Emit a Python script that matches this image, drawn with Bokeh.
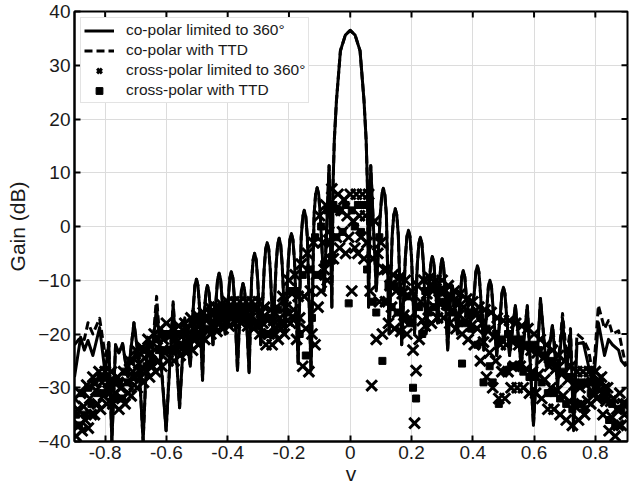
import math
from bokeh.plotting import figure
from bokeh.models import FixedTicker, Legend, LegendItem, Range1d, ColumnDataSource
from bokeh.embed import file_html
from bokeh.resources import INLINE

# ---------------- data ----------------
X_TICKS = [-0.8, -0.6, -0.4, -0.2, 0, 0.2, 0.4, 0.6, 0.8]
X_LABELS = ["-0.8", "-0.6", "-0.4", "-0.2", "0", "0.2", "0.4", "0.6", "0.8"]
Y_TICKS = [-40, -30, -20, -10, 0, 10, 20, 30, 40]
X_LIMITS = [-0.9, 0.905]
Y_LIMITS = [-40, 40]
X_TITLE = "v"
Y_TITLE = "Gain (dB)"

SERIES_NAMES = ["co-polar limited to 360°", "co-polar with TTD",
                "cross-polar limited to 360°", "cross-polar with TTD"]

# co-polar patterns, outer left part (the two curves differ here)
V_CO_LEFT = [
    -0.900, -0.880, -0.868, -0.856, -0.840, -0.818, -0.800, -0.788, -0.778, -0.766,
    -0.755, -0.743, -0.726, -0.706, -0.690, -0.676, -0.662, -0.650, -0.632, -0.601,
    -0.578, -0.557, -0.540, -0.522]
G_CO_LEFT_360 = [
    -28, -20.6, -23, -21.2, -24, -18.8, -27.3, -21.6, -40, -22,
    -23.5, -21.8, -28, -17.9, -25, -40, -20.6, -26, -14.7, -38,
    -14.5, -33.7, -17, -26]
G_CO_LEFT_TTD = [
    -22, -20.6, -21, -17.9, -20, -17.1, -24, -21.6, -40, -22,
    -23.5, -21.8, -28, -17.9, -25, -40, -20.6, -26, -13.0, -38,
    -14.0, -33.7, -17, -26]

# co-polar patterns, central part (both curves coincide here)
V_CO_MID = [
    -0.512, -0.507, -0.502, -0.497, -0.492, -0.482,
    -0.476, -0.471, -0.466, -0.461, -0.456, -0.448,
    -0.438, -0.433, -0.428, -0.423, -0.418, -0.408,
    -0.398, -0.393, -0.388, -0.383, -0.378, -0.368,
    -0.360, -0.355, -0.350, -0.345, -0.340, -0.330,
    -0.322, -0.317, -0.312, -0.307, -0.302, -0.292,
    -0.281, -0.276, -0.271, -0.266, -0.261, -0.252,
    -0.242, -0.237, -0.232, -0.227, -0.222, -0.212,
    -0.202, -0.197, -0.192, -0.187, -0.182, -0.170,
    -0.160, -0.155, -0.150, -0.145, -0.140, -0.128,
    -0.118, -0.113, -0.108, -0.103, -0.098, -0.085,
    -0.069, -0.060,
    -0.056, -0.052, -0.045, -0.032, -0.016, 0.000, 0.016, 0.032, 0.045, 0.052, 0.056,
    0.060, 0.067, 0.085,
    0.098, 0.103, 0.108, 0.113, 0.118, 0.127,
    0.137, 0.142, 0.147, 0.152, 0.157, 0.168,
    0.180, 0.185, 0.190, 0.195, 0.200, 0.210,
    0.219, 0.224, 0.229, 0.234, 0.239, 0.248,
    0.258, 0.263, 0.268, 0.273, 0.278, 0.285,
    0.292, 0.296, 0.300, 0.304, 0.308, 0.318,
    0.326, 0.329, 0.333, 0.337, 0.341, 0.350,
    0.359, 0.364, 0.369, 0.374, 0.379, 0.392,
    0.405, 0.410, 0.415, 0.420, 0.425, 0.436,
    0.446, 0.451, 0.456, 0.461, 0.466, 0.478,
    0.490, 0.495, 0.500, 0.505, 0.510, 0.520]
G_CO_MID = [
    -14.8, -11.0, -9.8, -11.0, -14.8, -28.6,
    -16.0, -12.2, -11.0, -12.2, -16.0, -22,
    -13.7, -9.9, -8.7, -9.9, -13.7, -20,
    -13.4, -9.6, -8.4, -9.6, -13.4, -26.8,
    -15.6, -11.8, -10.6, -11.8, -15.6, -27.2,
    -10.0, -6.2, -5.0, -6.2, -10.0, -22,
    -8.0, -4.2, -3.0, -4.2, -8.0, -20,
    -7.2, -3.4, -2.2, -3.4, -7.2, -20,
    -6.3, -2.5, -1.3, -2.5, -6.3, -25.5,
    -2.0, 1.8, 3.0, 1.8, -2.0, -26.8,
    2.2, 6.0, 7.2, 6.0, 2.2, -12,
    11.3, -15,
    8, 16, 23.4, 32.7, 35.6, 36.5, 35.6, 32.7, 23.4, 16, 8,
    -15, 11.3, -12,
    2.1, 5.9, 7.1, 5.9, 2.1, -20,
    -1.7, 2.1, 3.3, 2.1, -1.7, -22,
    -5.7, -1.9, -0.7, -1.9, -5.7, -20,
    -7.0, -3.2, -2.0, -3.2, -7.0, -20,
    -10.6, -6.8, -5.6, -6.8, -10.6, -18,
    -10.0, -7.0, -6.0, -7.0, -10.0, -23,
    -15.0, -12.2, -11.0, -12.2, -15.0, -20,
    -13.2, -9.4, -8.2, -9.4, -13.2, -18,
    -12.3, -8.5, -7.3, -8.5, -12.3, -23,
    -15.0, -11.2, -10.0, -11.2, -15.0, -24,
    -16.3, -12.5, -11.3, -12.5, -16.3, -24]

# co-polar patterns, outer right part (the two curves differ here)
V_CO_RIGHT = [
    0.539, 0.558, 0.578, 0.598, 0.621, 0.640, 0.660, 0.677, 0.693, 0.706,
    0.719, 0.729, 0.740, 0.761, 0.778, 0.793, 0.810, 0.830, 0.843, 0.856,
    0.876, 0.885, 0.900]
G_CO_RIGHT_360 = [
    -14.7, -26, -14.7, -37, -13.4, -26, -18.4, -30, -17.1, -27,
    -20, -38, -21.8, -21.6, -26, -30, -17.9, -24, -21, -22,
    -23, -25, -26]
G_CO_RIGHT_TTD = [
    -14.7, -26, -14.7, -37, -13.4, -26, -18.4, -27, -16.2, -24,
    -19, -36, -20, -21, -23, -28, -14.7, -19, -17.5, -20,
    -19.4, -22, -26]

# cross-polar, limited to 360 deg (x markers)
V_XP_360 = [
    -0.900, -0.895, -0.890, -0.885, -0.880, -0.875, -0.870, -0.865,
    -0.860, -0.855, -0.850, -0.845, -0.840, -0.835, -0.830, -0.825,
    -0.820, -0.815, -0.810, -0.805, -0.800, -0.795, -0.790, -0.785,
    -0.780, -0.775, -0.770, -0.765, -0.760, -0.755, -0.750, -0.745,
    -0.740, -0.735, -0.730, -0.725, -0.720, -0.715, -0.710, -0.705,
    -0.700, -0.695, -0.690, -0.685, -0.680, -0.675, -0.670, -0.665,
    -0.660, -0.655, -0.650, -0.645, -0.640, -0.635, -0.630, -0.625,
    -0.620, -0.615, -0.610, -0.605, -0.600, -0.595, -0.590, -0.585,
    -0.580, -0.575, -0.570, -0.565, -0.560, -0.555, -0.550, -0.545,
    -0.540, -0.535, -0.530, -0.525, -0.520, -0.515, -0.510, -0.505,
    -0.500, -0.495, -0.490, -0.485, -0.480, -0.475, -0.470, -0.465,
    -0.460, -0.455, -0.450, -0.445, -0.440, -0.435, -0.430, -0.425,
    -0.420, -0.415, -0.410, -0.405, -0.400, -0.395, -0.390, -0.385,
    -0.380, -0.375, -0.370, -0.365, -0.360, -0.355, -0.350, -0.345,
    -0.340, -0.335, -0.330, -0.325, -0.320, -0.315, -0.310, -0.305,
    -0.300, -0.295, -0.290, -0.285, -0.280, -0.275, -0.270, -0.265,
    -0.260, -0.255, -0.250, -0.245, -0.240, -0.235, -0.230, -0.225,
    -0.220, -0.215, -0.210, -0.205, -0.200, -0.195, -0.190, -0.185,
    -0.180, -0.175, -0.170, -0.165, -0.160, -0.155, -0.150, -0.145,
    -0.140, -0.135, -0.130, -0.125, -0.120, -0.115, -0.110, -0.105,
    -0.100, -0.095, -0.090, -0.085, -0.080, -0.075, -0.070, -0.065,
    -0.060, -0.055, -0.050, -0.045, -0.040, -0.035, -0.030, -0.025,
    -0.020, -0.015, -0.010, -0.005, 0.000, 0.005, 0.010, 0.015,
    0.020, 0.025, 0.030, 0.035, 0.040, 0.045, 0.050, 0.055,
    0.060, 0.065, 0.070, 0.075, 0.080, 0.085, 0.090, 0.095,
    0.100, 0.105, 0.110, 0.115, 0.120, 0.125, 0.130, 0.135,
    0.140, 0.145, 0.150, 0.155, 0.160, 0.165, 0.170, 0.175,
    0.180, 0.185, 0.190, 0.195, 0.200, 0.205, 0.210, 0.215,
    0.220, 0.225, 0.230, 0.235, 0.240, 0.245, 0.250, 0.255,
    0.260, 0.265, 0.270, 0.275, 0.280, 0.285, 0.290, 0.295,
    0.300, 0.305, 0.310, 0.315, 0.320, 0.325, 0.330, 0.335,
    0.340, 0.345, 0.350, 0.355, 0.360, 0.365, 0.370, 0.375,
    0.380, 0.385, 0.390, 0.395, 0.400, 0.405, 0.410, 0.415,
    0.420, 0.425, 0.430, 0.435, 0.440, 0.445, 0.450, 0.455,
    0.460, 0.465, 0.470, 0.475, 0.480, 0.485, 0.490, 0.495,
    0.500, 0.505, 0.510, 0.515, 0.520, 0.525, 0.530, 0.535,
    0.540, 0.545, 0.550, 0.555, 0.560, 0.565, 0.570, 0.575,
    0.580, 0.585, 0.590, 0.595, 0.600, 0.605, 0.610, 0.615,
    0.620, 0.625, 0.630, 0.635, 0.640, 0.645, 0.650, 0.655,
    0.660, 0.665, 0.670, 0.675, 0.680, 0.685, 0.690, 0.695,
    0.700, 0.705, 0.710, 0.715, 0.720, 0.725, 0.730, 0.735,
    0.740, 0.745, 0.750, 0.755, 0.760, 0.765, 0.770, 0.775,
    0.780, 0.785, 0.790, 0.795, 0.800, 0.805, 0.810, 0.815,
    0.820, 0.825, 0.830, 0.835, 0.840, 0.845, 0.850, 0.855,
    0.860, 0.865, 0.870, 0.875, 0.880, 0.885, 0.890, 0.895,
    0.900]

G_XP_360 = [
    -32, -39, -34, -37, -31, -38, -33.5, -36,
    -29.5, -37.5, -32, -35, -28, -35, -30.5, -33,
    -27, -34, -29, -31.5, -27, -33, -29, -31,
    -27, -33, -29, -31, -28, -34, -30, -32,
    -27, -33, -29, -31, -25, -31.5, -27, -29.5,
    -23, -30, -25.5, -28, -22.5, -29, -24.5, -27,
    -21, -28, -23.5, -26, -20, -27, -22.5, -25,
    -19, -26, -21, -23.5, -18, -25, -20.5, -23,
    -19, -25, -21, -23, -18.5, -24, -20.5, -22.5,
    -18, -23.5, -20, -22, -17, -23, -19, -21,
    -16.5, -22, -18.5, -20.5, -16, -21, -17.5, -19.5,
    -15, -20, -16.5, -18.5, -15, -19.5, -16.5, -18,
    -14.5, -19, -16, -17.5, -14, -18.5, -15.5, -17,
    -14, -18, -15.5, -17, -14, -18, -15.5, -17,
    -14, -18.5, -15.5, -17, -14, -19, -15.5, -17.5,
    -14, -20, -16, -18, -15, -22, -17.5, -20,
    -15.5, -22, -17.5, -20, -15, -21, -17, -19,
    -13, -20, -15, -17.5, -10, -18, -12.5, -15.5,
    -9, -21, -13, -17, -7, -26, -13, -19,
    -5, -27, -12, -20, -3, -22, -9, -15,
    2, -12, -3, -8, 4, -10, -1, -6,
    7, -6, 3, -2, 6, -4, 3, -1,
    5, -5, 2, -2, 6, -12, 1, -4,
    6, -5, 2, -2, 6, -6, 2, -3,
    6, -12, -29.6, -6, 1, -21, -5, -14,
    -3, -20, -8, -14, -8, -18, -11, -15,
    -9, -19, -12, -16, -9.5, -19.5, -12.5, -16.5,
    -10, -20, -13, -17, -12, -23, -36.6, -26.8,
    -11, -21, -14, -17.5, -10, -18.5, -12.5, -15.5,
    -9.5, -18, -12, -15, -10, -17, -12, -14.5,
    -10, -17, -12, -14.5, -11, -18, -13, -15.5,
    -12, -19, -14, -16.5, -12.5, -20, -15, -17.5,
    -13.5, -21, -16, -18.5, -14, -22, -16.5, -19,
    -15, -25, -18, -21.5, -15.5, -28, -19.5, -23.5,
    -16, -30, -20.5, -25, -17, -32, -22, -27,
    -17.5, -32, -22, -27, -17.5, -30, -21.5, -26,
    -18, -30, -22, -26, -18.5, -30, -22.5, -26.5,
    -19, -31, -23, -27, -20, -31, -23.5, -27.5,
    -21, -32, -24.5, -28.5, -22, -34, -26, -30,
    -23, -34, -26.5, -30.5, -24, -35, -27.5, -31.5,
    -25, -36, -28.5, -32.5, -26, -37, -29.5, -33.5,
    -27, -36, -30, -33, -27, -35, -29.5, -32.5,
    -27, -33, -29, -31, -27, -32, -28.5, -30.5,
    -28, -35, -30, -32.5, -30, -38, -32.5, -35.5,
    -32, -39, -34, -37, -31, -37, -33, -35,
    -33]

# cross-polar with TTD (square markers)
V_XP_TTD = [
    -0.895, -0.885, -0.875, -0.865, -0.855, -0.845, -0.835, -0.825, -0.815, -0.805,
    -0.795, -0.785, -0.775, -0.765, -0.755, -0.745, -0.735, -0.725, -0.715, -0.705,
    -0.695, -0.685, -0.675, -0.665, -0.655, -0.645, -0.635, -0.625, -0.615, -0.605,
    -0.595, -0.585, -0.575, -0.565, -0.555, -0.545, -0.535, -0.525, -0.515, -0.505,
    -0.495, -0.485, -0.475, -0.465, -0.455, -0.445, -0.435, -0.425, -0.415, -0.405,
    -0.395, -0.385, -0.375, -0.365, -0.355, -0.345, -0.335, -0.325, -0.315, -0.305,
    -0.295, -0.285, -0.275, -0.265, -0.255, -0.245, -0.235, -0.225, -0.215, -0.205,
    -0.195, -0.185, -0.175, -0.165, -0.155, -0.145, -0.135, -0.125, -0.115, -0.105,
    -0.095, -0.085, -0.075, -0.065, -0.055, -0.045, -0.035, -0.025, -0.015, -0.005,
    0.005, 0.015, 0.025, 0.035, 0.045, 0.055, 0.065, 0.075, 0.085, 0.095,
    0.105, 0.115, 0.125, 0.135, 0.145, 0.155, 0.165, 0.175, 0.185, 0.195,
    0.205, 0.215, 0.225, 0.235, 0.245, 0.255, 0.265, 0.275, 0.285, 0.295,
    0.305, 0.315, 0.325, 0.335, 0.345, 0.355, 0.365, 0.375, 0.385, 0.395,
    0.405, 0.415, 0.425, 0.435, 0.445, 0.455, 0.465, 0.475, 0.485, 0.495,
    0.505, 0.515, 0.525, 0.535, 0.545, 0.555, 0.565, 0.575, 0.585, 0.595,
    0.605, 0.615, 0.625, 0.635, 0.645, 0.655, 0.665, 0.675, 0.685, 0.695,
    0.705, 0.715, 0.725, 0.735, 0.745, 0.755, 0.765, 0.775, 0.785, 0.795,
    0.805, 0.815, 0.825, 0.835, 0.845, 0.855, 0.865, 0.875, 0.885, 0.895]

G_XP_TTD = [
    -35, -37, -31, -35, -30, -33, -29, -31, -28, -31,
    -28, -30, -29, -32, -29, -32, -27, -29, -25, -28,
    -24, -27, -23, -26, -22, -25, -21, -23, -20, -23,
    -20, -23, -20, -22, -20, -22, -19, -21, -18, -20,
    -17.5, -20, -17, -19, -16, -18, -15.5, -17, -15, -17,
    -15, -16.5, -15, -16.5, -15, -16.5, -15, -17.5, -15, -18.5,
    -16, -20, -17, -20, -17, -19, -15.5, -18, -14, -16,
    -12, -17, -12, -20, -9, -24, -8, -17, -2, -9,
    0, -7, 3, -3, 4, -2, 3, -1, 4, -14.3,
    3, 0, 4, -1, 4, -8, 1, -14, -16, -2,
    -25, -14, -11, -15, -11, -16, -12, -17, -13, -18,
    -30, -32, -15, -20, -12, -16, -11, -15, -12, -14,
    -12, -15, -13, -16, -14, -18, -25.5, -18, -16, -19,
    -16, -22, -17, -29, -19, -26, -29, -20, -33, -21,
    -27, -20, -26, -21, -26, -21, -27, -22, -28, -22,
    -28, -23, -29, -24, -31, -25, -31, -26, -32, -27,
    -33, -28, -34, -29, -33, -29, -34, -29, -31, -29,
    -30, -29, -32, -31, -36, -33, -37, -34, -34, -33]

# full co-polar series (the central part is shared by both curves)
V_CO = V_CO_LEFT + V_CO_MID + V_CO_RIGHT
G_CO_360 = G_CO_LEFT_360 + G_CO_MID + G_CO_RIGHT_360
G_CO_TTD = G_CO_LEFT_TTD + G_CO_MID + G_CO_RIGHT_TTD

# ---------------- figure ----------------
FONT = "Liberation Sans"
TXT = "#1a1a1a"

p = figure(width=636, height=489, output_backend="svg", toolbar_location=None,
           x_range=Range1d(*X_LIMITS), y_range=Range1d(*Y_LIMITS),
           min_border_left=74, min_border_right=9, min_border_top=11,
           min_border_bottom=48, background_fill_color="white",
           border_fill_color="white")

p.outline_line_color = "black"
p.outline_line_width = 2

# grid
for g in (p.xgrid, p.ygrid):
    g.grid_line_color = "#dcdcdc"
    g.grid_line_width = 1
p.xgrid.ticker = FixedTicker(ticks=X_TICKS)
p.ygrid.ticker = FixedTicker(ticks=Y_TICKS)

# axes
p.xaxis.ticker = FixedTicker(ticks=X_TICKS)
p.xaxis.major_label_overrides = dict(zip(X_TICKS, X_LABELS))
p.yaxis.ticker = FixedTicker(ticks=Y_TICKS)
p.xaxis.axis_label = X_TITLE
p.yaxis.axis_label = Y_TITLE
for ax in (p.xaxis[0], p.yaxis[0]):
    ax.major_tick_in = 6
    ax.major_tick_out = 0
    ax.minor_tick_line_color = None
    ax.major_tick_line_color = "black"
    ax.major_tick_line_width = 2
    ax.axis_line_color = "black"
    ax.axis_line_width = 2
    ax.major_label_text_font = FONT
    ax.major_label_text_font_size = "19px"
    ax.major_label_text_color = TXT
    ax.axis_label_text_font = FONT
    ax.axis_label_text_font_size = "21px"
    ax.axis_label_text_font_style = "normal"
    ax.axis_label_text_color = TXT
p.xaxis.major_label_standoff = 4
p.xaxis.axis_label_standoff = 0
p.yaxis.major_label_standoff = 4
p.yaxis.axis_label_standoff = 6

# mirrored inward ticks on top and right frame edges (clipped to the frame)
p.scatter(X_TICKS, [Y_LIMITS[1]] * len(X_TICKS), marker="dash", size=12,
          angle=math.pi / 2, line_color="black", line_width=2)
p.scatter([X_LIMITS[1]] * len(Y_TICKS), Y_TICKS, marker="dash", size=12,
          line_color="black", line_width=2)

# ---------------- data renderers ----------------
src_co = ColumnDataSource(dict(v=V_CO, g360=G_CO_360, gttd=G_CO_TTD))
src_x = ColumnDataSource(dict(v=V_XP_360, g=G_XP_360))
src_s = ColumnDataSource(dict(v=V_XP_TTD, g=G_XP_TTD))

r_ttd = p.line("v", "gttd", source=src_co, line_color="black", line_width=3,
               line_dash="8 4", line_join="round")
r_360 = p.line("v", "g360", source=src_co, line_color="black", line_width=3,
               line_join="round")
r_sq = p.scatter("v", "g", source=src_s, marker="square", size=7,
                 fill_color="black", line_color="black")
r_x = p.scatter("v", "g", source=src_x, marker="x", size=15,
                line_color="black", line_width=3)

legend = Legend(items=[
    LegendItem(label=SERIES_NAMES[0], renderers=[r_360]),
    LegendItem(label=SERIES_NAMES[1], renderers=[r_ttd]),
    LegendItem(label=SERIES_NAMES[2], renderers=[r_x]),
    LegendItem(label=SERIES_NAMES[3], renderers=[r_sq]),
], location="top_left")
legend.margin = 6
legend.padding = 3
legend.spacing = 2
legend.label_height = 17
legend.glyph_height = 17
legend.glyph_width = 30
legend.label_standoff = 12
legend.label_text_font = FONT
legend.label_text_font_size = "15.5px"
legend.label_text_color = TXT
legend.border_line_color = "#c8c8c8"
legend.border_line_width = 1
legend.background_fill_color = "white"
legend.background_fill_alpha = 1.0
p.add_layout(legend)

open("out.html", "w").write(file_html(p, INLINE))
